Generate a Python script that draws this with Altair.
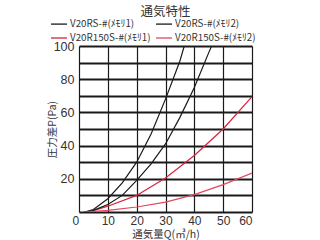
import altair as alt
import pandas as pd

series_names = ["V20RS-#(ﾒﾓﾘ1)", "V20R150S-#(ﾒﾓﾘ1)", "V20RS-#(ﾒﾓﾘ2)", "V20R150S-#(ﾒﾓﾘ2)"]
series_colors = ["#1a1a1a", "#d8223e", "#1a1a1a", "#e0485f"]

q_black1 = [2, 5, 10, 15, 20, 25, 30, 35, 36.5]
p_black1 = [0, 1.5, 8, 17.5, 30, 47, 68, 91, 100]
q_red1 = [2, 5, 10, 20, 30, 40, 50, 60]
p_red1 = [0, 0.8, 3.5, 10, 20.5, 34, 50, 69.5]
q_black2 = [2, 5, 10, 15, 20, 25, 30, 35, 40, 45, 46]
p_black2 = [0, 1, 4.5, 10, 19, 29, 41, 57, 75, 96, 100]
q_red2 = [2, 10, 20, 30, 40, 50, 60]
p_red2 = [0, 1, 3, 6, 10.5, 16.5, 23.5]

rows = []
for name, qs, ps in zip(series_names, [q_black1, q_red1, q_black2, q_red2], [p_black1, p_red1, p_black2, p_red2]):
    for i, (q, p) in enumerate(zip(qs, ps)):
        rows.append({"series": name, "Q": q, "P": p, "order": i})
df = pd.DataFrame(rows)

font = "Noto Sans CJK JP"
numfont = "Liberation Sans"

chart = alt.Chart(df).mark_line(strokeWidth=1.2, clip=True).encode(
    x=alt.X("Q:Q", scale=alt.Scale(domain=[0, 60], nice=False),
            axis=alt.Axis(values=[0, 10, 20, 30, 40, 50, 60], title="通気量Q(㎥/h)",
                          grid=True, gridColor="#1a1a1a", gridWidth=1.2, ticks=False,
                          domain=False, labelPadding=3,
                          labelOffset={"condition": {"test": "datum.value == 0", "value": -7}, "value": 0},
                          labelFontSize=12, labelColor="#333", titleFontSize=10.5,
                          titleFontWeight="normal", titleColor="#333",
                          titleY=22.5, titleBaseline="middle",
                          labelFont=numfont, titleFont=font)),
    y=alt.Y("P:Q", scale=alt.Scale(domain=[0, 100], nice=False),
            axis=alt.Axis(values=[0, 10, 20, 30, 40, 50, 60, 70, 80, 90, 100], title="圧力差P(Pa)",
                          labelExpr="datum.value % 20 == 0 && datum.value > 0 ? datum.label : ''",
                          grid=True, gridColor="#1a1a1a", gridWidth=2, ticks=False,
                          domain=False, labelPadding=5,
                          labelFontSize=12.5, labelColor="#333", titleFontSize=10.5,
                          titleFontWeight="normal", titleColor="#333",
                          titleX=-27, titleBaseline="middle",
                          labelFont=numfont, titleFont=font)),
    color=alt.Color("series:N", scale=alt.Scale(domain=series_names, range=series_colors),
                    sort=series_names,
                    legend=alt.Legend(title=None, orient="none", legendX=-27, legendY=-29,
                                      columns=2, symbolType="M-1.33,0H1.33", symbolSize=144,
                                      symbolStrokeWidth=1.3, labelFontSize=9.8,
                                      labelColor="#333", labelFont=font, labelOffset=4,
                                      columnPadding=2, rowPadding=2)),
    order="order:Q",
).properties(
    width=173, height=166,
    title=alt.TitleParams("通気特性", fontSize=12.5, font=font, fontWeight="normal",
                          color="#333", offset=-1.5, anchor="middle", frame="group"),
    autosize=alt.AutoSizeParams(type="none"),
    padding={"left": 79, "top": 46, "right": 68, "bottom": 28},
).configure_view(
    fill="#e5e5e7", stroke="#1a1a1a", strokeWidth=1.2
).configure(background="white")

chart.save("out.html", embed_options={"renderer": "svg", "actions": False})
